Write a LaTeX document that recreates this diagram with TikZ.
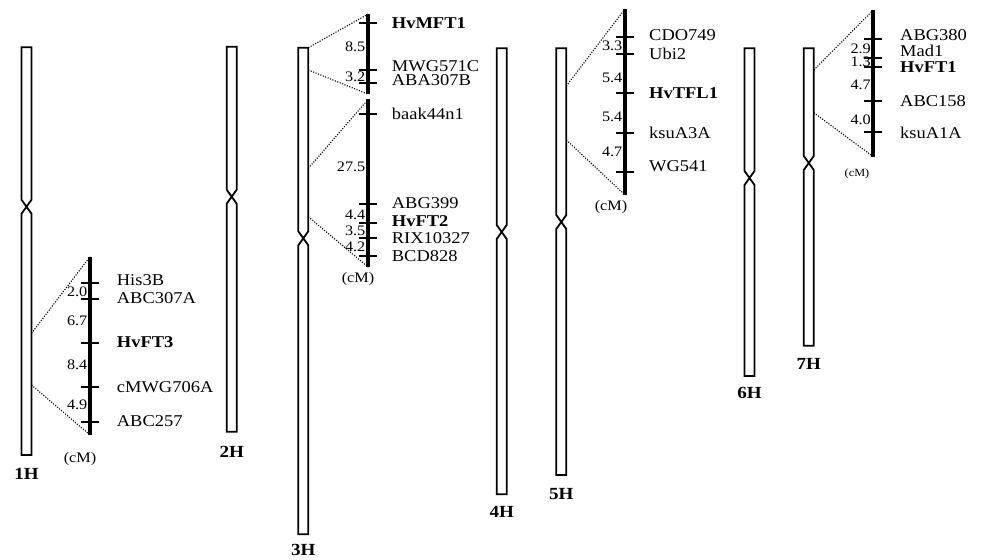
\documentclass[tikz,border=0pt]{standalone}
\usepackage{fontspec}
\setmainfont{Liberation Serif}[FakeStretch=1.12]
\newcommand{\chromo}[7]{% #1 name, #2 x centre, #3 top, #4 centromere, #5 bottom, #6 label, #7 label y
  \draw[chrom] ({#2-5},#3) -- ({#2-5},{#4-7}) -- ({#2+5},{#4+7}) -- ({#2+5},#5)
    -- ({#2-5},#5) -- ({#2-5},{#4+7}) -- ({#2+5},{#4-7}) -- ({#2+5},#3) -- cycle;
  \node[chlab] (#1) at (#2,#7) {#6};
}
\newcommand{\mtk}[2]{\draw[mtick] ({#1-9},#2) -- ({#1+9},#2);}
\begin{document}
\begin{tikzpicture}[x=1pt,y=-1pt,
  chrom/.style={draw=black,line width=1.8pt,fill=white,line join=miter},
  mapline/.style={line width=4pt},
  mtick/.style={line width=1.8pt},
  dots/.style={line width=1.1pt,dash pattern=on 1.1pt off 1.5pt},
  lab/.style={anchor=west,inner sep=0pt,font=\fontsize{16.5}{17}\selectfont},
  blab/.style={anchor=west,inner sep=0pt,font=\fontsize{16.5}{17}\selectfont\bfseries},
  dist/.style={anchor=east,inner sep=0pt,font=\fontsize{14.5}{15}\selectfont},
  cmlab/.style={inner sep=0pt,font=\fontsize{14.5}{15}\selectfont},
  chlab/.style={inner sep=0pt,font=\fontsize{17}{17}\selectfont\bfseries}]
\useasboundingbox (0,0) rectangle (981,559);

% chromosomes
\chromo{c1}{26.5}{47.3}{206.7}{455}{1H}{474}
\chromo{c2}{231.7}{46.7}{196.7}{431.7}{2H}{452}
\chromo{c3}{303.3}{47.7}{238.3}{534.3}{3H}{549.5}
\chromo{c4}{501.7}{48.3}{232}{494.3}{4H}{512}
\chromo{c5}{561.3}{48.3}{222}{475}{5H}{494}
\chromo{c6}{749.5}{48.3}{178}{376}{6H}{393}
\chromo{c7}{808.8}{48.3}{163}{345.7}{7H}{364}

% ---------- 1H map ----------
\coordinate (a1t) at (90,256.7);
\coordinate (a1b) at (90,435);
\coordinate (c1u) at (31.5,333.3);
\coordinate (c1d) at (31.5,385);
\draw[dots] (c1u) -- (a1t);
\draw[dots] (c1d) -- (a1b);
\draw[mapline] (a1t) -- (a1b);
\mtk{90}{283.3}\mtk{90}{299.3}\mtk{90}{342.7}\mtk{90}{386.7}\mtk{90}{421.7}
\node[lab]  (his3b)  at (116.7,280.5) {His3B};
\node[lab]  (abc307a) at (116.7,297.8) {ABC307A};
\node[blab] (hvft3)  at (116.7,342.5) {HvFT3};
\node[lab]  (cmwg)   at (116.7,386.7) {cMWG706A};
\node[lab]  (abc257) at (116.7,421) {ABC257};
\node[dist] (d11) at (87.5,291.7) {2.0};
\node[dist] (d12) at (87.5,321) {6.7};
\node[dist] (d13) at (87.5,365) {8.4};
\node[dist] (d14) at (87.5,405) {4.9};
\node[cmlab] (cm1) at (80,459.5) {(cM)};

% ---------- 3H map ----------
\coordinate (a3t) at (368.3,14);
\coordinate (a3m) at (368.3,94.3);
\coordinate (b3t) at (368.3,99.3);
\coordinate (b3b) at (368.3,267.3);
\coordinate (c3a) at (308.3,47.7);
\coordinate (c3b) at (308.3,70);
\coordinate (c3c) at (308.3,168.3);
\coordinate (c3d) at (308.3,216.7);
\draw[dots] (c3a) -- (a3t);
\draw[dots] (c3b) -- (a3m);
\draw[dots] (c3c) -- (b3t);
\draw[dots] (c3d) -- (b3b);
\draw[mapline] (a3t) -- (a3m);
\draw[mapline] (b3t) -- (b3b);
\mtk{368.3}{23.3}\mtk{368.3}{70}\mtk{368.3}{83.3}
\mtk{368.3}{114.3}\mtk{368.3}{204}\mtk{368.3}{222.7}\mtk{368.3}{238.3}\mtk{368.3}{256}
\node[blab] (hvmft1) at (391.7,23.3) {HvMFT1};
\node[lab]  (mwg571c) at (391.7,66) {MWG571C};
\node[lab]  (aba307b) at (391.7,80.5) {ABA307B};
\node[lab]  (baak) at (391.7,114) {baak44n1};
\node[lab]  (abg399) at (391.7,202.7) {ABG399};
\node[blab] (hvft2) at (391.7,221) {HvFT2};
\node[lab]  (rix) at (391.7,238.3) {RIX10327};
\node[lab]  (bcd828) at (391.7,255.7) {BCD828};
\node[dist] (d31) at (365.5,46.7) {8.5};
\node[dist] (d32) at (365.5,76.7) {3.2};
\node[dist] (d33) at (365.5,166.7) {27.5};
\node[dist] (d34) at (365.5,215) {4.4};
\node[dist] (d35) at (365.5,231) {3.5};
\node[dist] (d36) at (365.5,246.7) {4.2};
\node[cmlab] (cm3) at (358,279) {(cM)};

% ---------- 5H map ----------
\coordinate (a5t) at (625,9);
\coordinate (a5b) at (625,195);
\coordinate (c5u) at (566.3,86);
\coordinate (c5d) at (566.3,140);
\draw[dots] (c5u) -- (a5t);
\draw[dots] (c5d) -- (a5b);
\draw[mapline] (a5t) -- (a5b);
\mtk{625}{36.7}\mtk{625}{54.3}\mtk{625}{93.3}\mtk{625}{132.7}\mtk{625}{171.7}
\node[lab]  (cdo749) at (649,35.5) {CDO749};
\node[lab]  (ubi2) at (649,54) {Ubi2};
\node[blab] (hvtfl1) at (649,93.3) {HvTFL1};
\node[lab]  (ksua3a) at (649,132.5) {ksuA3A};
\node[lab]  (wg541) at (649,166) {WG541};
\node[dist] (d51) at (622.5,46) {3.3};
\node[dist] (d52) at (622.5,78) {5.4};
\node[dist] (d53) at (622.5,116.7) {5.4};
\node[dist] (d54) at (622.5,151.7) {4.7};
\node[cmlab] (cm5) at (611,207) {(cM)};

% ---------- 7H map ----------
\coordinate (a7t) at (873.3,10);
\coordinate (a7b) at (873.3,156.7);
\coordinate (c7u) at (813.8,70);
\coordinate (c7d) at (813.8,112.7);
\draw[dots] (c7u) -- (a7t);
\draw[dots] (c7d) -- (a7b);
\draw[mapline] (a7t) -- (a7b);
\mtk{873.3}{39.3}\mtk{873.3}{57.7}\mtk{873.3}{66.7}\mtk{873.3}{101}\mtk{873.3}{131.7}
\node[lab]  (abg380) at (900,35.5) {ABG380};
\node[lab]  (mad1) at (900,50.5) {Mad1};
\node[blab] (hvft1) at (900,67) {HvFT1};
\node[lab]  (abc158) at (900,101) {ABC158};
\node[lab]  (ksua1a) at (900,132.5) {ksuA1A};
\node[dist] (d71) at (871,49) {2.9};
\node[dist] (d72) at (871,62) {1.3};
\node[dist] (d73) at (871,85) {4.7};
\node[dist] (d74) at (871,119.5) {4.0};
\node[cmlab,font=\fontsize{11}{11}\selectfont] (cm7) at (857,174) {(cM)};
\end{tikzpicture}
\end{document}
